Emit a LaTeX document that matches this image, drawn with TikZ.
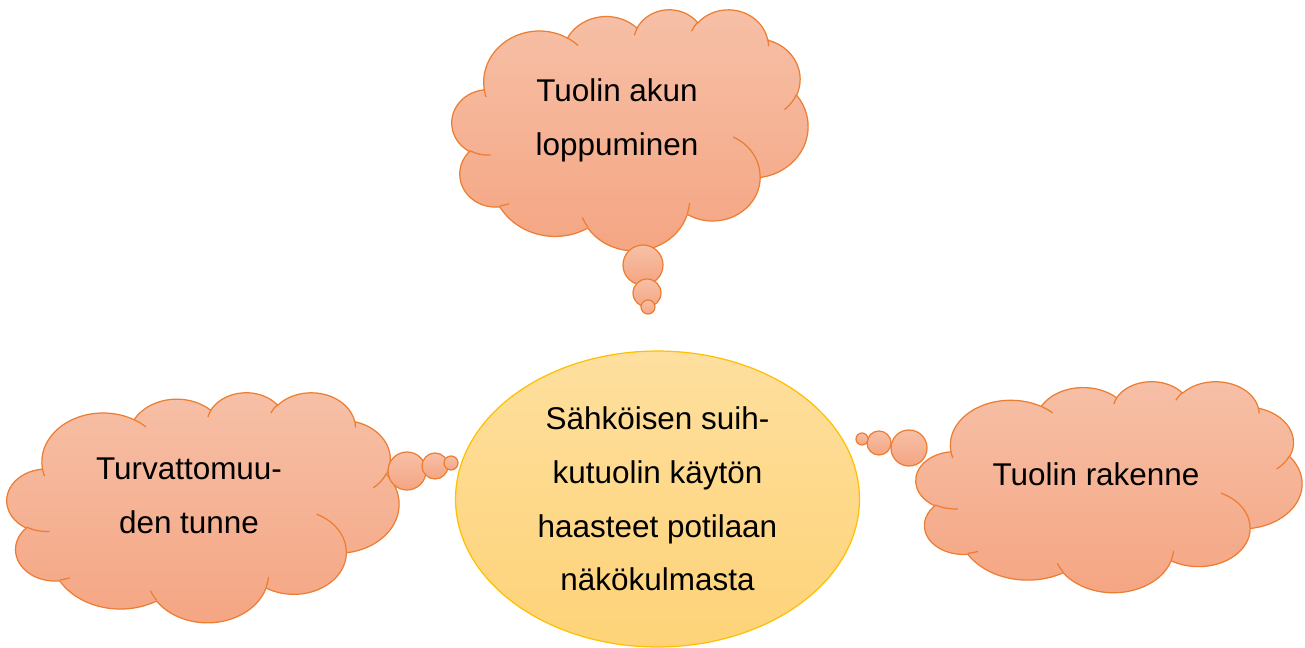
\documentclass[tikz,border=0pt]{standalone}
\usepackage{fontspec}
\setmainfont{Liberation Sans}
\usetikzlibrary{shapes.geometric}
\definecolor{cloudtop}{RGB}{246,192,167}
\definecolor{cloudbot}{RGB}{245,165,130}
\definecolor{cloudedge}{RGB}{237,125,49}
\definecolor{ovaltop}{RGB}{254,223,158}
\definecolor{ovalbot}{RGB}{254,211,120}
\definecolor{ovaledge}{RGB}{255,192,0}
\tikzset{
  cloudfill/.style={top color=cloudtop, bottom color=cloudbot, draw=cloudedge, line width=0.7pt},
  cloudline/.style={draw=cloudedge, line width=0.7pt},
  cloudtext/.style={font=\fontsize{17.9}{30.6}\selectfont, align=center},
  % elliptic arc with "visual" angles
  cloudarc/.style n args={4}{x radius=#1, y radius=#2,
    start angle={atan2(#1*sin(#3),#2*cos(#3))},
    delta angle={mod(mod(atan2(#1*sin(#3+#4),#2*cos(#3+#4))-atan2(#1*sin(#3),#2*cos(#3)),360)+360,360)}},
}
% cloud in a box: left, top, width, height
\newcommand\drawcloud[4]{%
  \begin{scope}[shift={(#1,#2)}, xscale=#3/43.2, yscale=#4/43.2]
    \path[cloudfill] (3.9,14.37)
      \foreach \a/\b/\s/\w in {6.753/9.19/-190.4875/123.7805, 5.333/7.267/-144.1024/89.9452,
        4.365/5.945/-145.8079/99.723, 4.857/6.595/-130.9861/117.2417, 5.333/7.273/-78.7089/109.0269,
        6.775/9.22/-46.2673/130.269, 5.785/7.867/0.625/114.0333, 6.752/9.215/22.4516/115.1726,
        7.72/10.543/66.2426/75.711, 4.36/5.918/-274.9421/146.7356, 4.345/5.945/-246.8285/152.5189}
      { arc[cloudarc={\a}{\b}{\s}{\w}] } -- cycle;
    \foreach \x/\y/\a/\b/\s/\w in {4.693/26.177/4.345/5.945/86.742/26.4295,
        6.928/34.899/4.36/5.918/73.6105/11.4475, 16.478/39.09/6.752/9.215/137.6242/14.0811,
        28.827/34.751/6.752/9.215/6.4533/15.9984, 34.129/22.954/5.785/7.867/-70.2924/70.9174,
        41.798/15.354/5.333/7.273/30.318/27.7515, 38.324/5.426/4.857/6.595/-13.7443/14.8589,
        29.078/3.952/4.857/6.595/-149.1815/18.1954, 22.141/4.72/4.365/5.945/-163.4943/17.6864,
        14/5.192/6.753/9.19/-66.707/12.3194, 4.127/15.789/6.753/9.19/157.6544/11.8582}
      \draw[cloudline] (\x,\y) arc[cloudarc={\a}{\b}{\s}{\w}];
  \end{scope}}

\begin{document}
\begin{tikzpicture}[x=0.02cm, y=-0.02cm]
  \useasboundingbox (0,0) rectangle (1305,648);
  % centre oval
  \node[ellipse, draw=ovaledge, line width=0.7pt, top color=ovaltop, bottom color=ovalbot,
        minimum width=8.08cm, minimum height=5.92cm, inner sep=0pt, cloudtext]
    (haasteet) at (657.5,499) {S\"ahk\"oisen suih-\\kutuolin k\"ayt\"on\\haasteet potilaan\\n\"ak\"okulmasta};
  % clouds
  \drawcloud{452}{9}{356}{241}
  \drawcloud{7}{392}{392}{230}
  \drawcloud{916}{381}{386}{211}
  % bubbles
  \foreach \x/\y/\r in {643/265/20, 647/293/14, 648/307/7,
                        407/471/19, 435/466/13, 451/463/7,
                        909/448/18, 879/443/12, 862/439/6}
    \path[cloudfill] (\x,\y) circle (\r);
  \node[cloudtext] (akku) at (617,120) {Tuolin akun\\loppuminen};
  \node[cloudtext] (turva) at (189,496) {Turvattomuu-\\den tunne};
  \node[cloudtext] (rakenne) at (1096,474) {Tuolin rakenne};
\end{tikzpicture}
\end{document}
